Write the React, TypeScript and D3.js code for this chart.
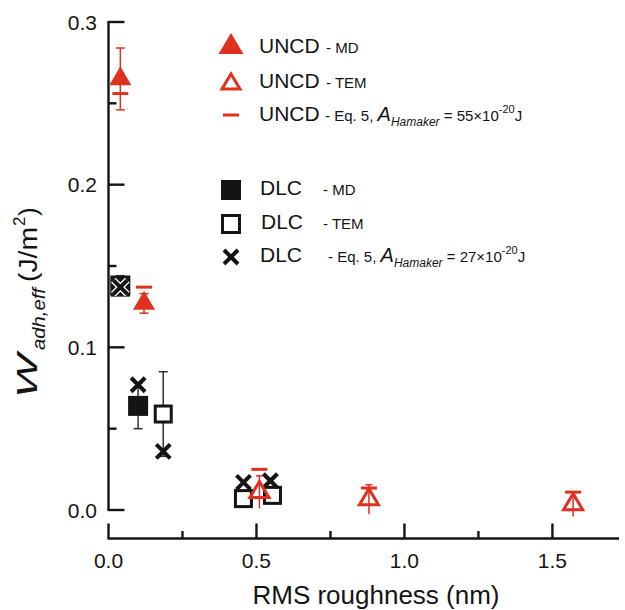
import React from "react";
import * as d3 from "d3";

// ---------- data ----------
const uncdMdX = [0.04, 0.12];
const uncdMdY = [0.265, 0.127];
const uncdMdErr = [0.019, 0.006];

const uncdTemX = [0.51, 0.88, 1.57];
const uncdTemY = [0.011, 0.0065, 0.0035];
const uncdTemErr = [0.01, 0.009, 0.0075];

const uncdEqX = [0.04, 0.12, 0.51, 0.88, 1.57];
const uncdEqY = [0.256, 0.137, 0.025, 0.0135, 0.011];

const dlcMdX = [0.04, 0.1];
const dlcMdY = [0.138, 0.064];
const dlcMdErr = [0.006, 0.014];

const dlcTemX = [0.04, 0.185, 0.456, 0.554];
const dlcTemY = [0.137, 0.059, 0.007, 0.009];
const dlcTemErr = [0.004, 0.026, 0.003, 0.003];

const dlcEqX = [0.04, 0.1, 0.185, 0.456, 0.547];
const dlcEqY = [0.137, 0.077, 0.036, 0.017, 0.018];

const xMajor = [0, 0.5, 1.0, 1.5];
const xMinor = [0.25, 0.75, 1.25];
const yMajor = [0, 0.1, 0.2, 0.3];
const yMinor = [0.05, 0.15, 0.25];

const RED = "#e0301e";
const INK = "#141414";
const FONT = "Liberation Sans, Arial, Helvetica, sans-serif";

const W = 625;
const H = 610;

const x = d3.scaleLinear().domain([0, 1.725]).range([108.5, 619]);
const y = d3.scaleLinear().domain([0, 0.3]).range([510, 22]);

function triPath(cx: number, cy: number, w: number, h: number) {
  const p = d3.path();
  p.moveTo(cx, cy - (2 * h) / 3);
  p.lineTo(cx + w / 2, cy + h / 3);
  p.lineTo(cx - w / 2, cy + h / 3);
  p.closePath();
  return p.toString();
}

function ErrBar({ cx, cy, e, color, cap = 9, sw = 1.5, bottomCap = true }: any) {
  const y1 = y(cy + e);
  const y2 = y(cy - e);
  const px = x(cx);
  return (
    <g stroke={color} strokeWidth={sw}>
      <line x1={px} x2={px} y1={y1} y2={y2} />
      <line x1={px - cap / 2} x2={px + cap / 2} y1={y1} y2={y1} />
      {bottomCap && <line x1={px - cap / 2} x2={px + cap / 2} y1={y2} y2={y2} />}
    </g>
  );
}

function XMark({ cx, cy, s = 7, halo = true }: any) {
  return (
    <g>
      {halo && (
        <g stroke="#fff" strokeWidth={6.5}>
          <line x1={cx - s} y1={cy - s} x2={cx + s} y2={cy + s} />
          <line x1={cx - s} y1={cy + s} x2={cx + s} y2={cy - s} />
        </g>
      )}
      <g stroke={INK} strokeWidth={4}>
        <line x1={cx - s} y1={cy - s} x2={cx + s} y2={cy + s} />
        <line x1={cx - s} y1={cy + s} x2={cx + s} y2={cy - s} />
      </g>
    </g>
  );
}

export default function App() {
  return (
    <svg
      width={W}
      height={H}
      style={{ position: "absolute", left: 0, top: 0, background: "#fff" }}
      fontFamily={FONT}
    >
      <rect width={W} height={H} fill="#fff" />

      {/* Y axis */}
      <g stroke={INK} strokeWidth={2.4}>
        <line x1={108.5} x2={108.5} y1={y(0.3) - 1} y2={y(0) + 1} />
        {yMajor.map((v) => (
          <line key={"ym" + v} x1={108.5} x2={124.5} y1={y(v)} y2={y(v)} />
        ))}
        {yMinor.map((v) => (
          <line key={"yn" + v} x1={108.5} x2={116.5} y1={y(v)} y2={y(v)} />
        ))}
      </g>
      {yMajor.map((v) => (
        <text
          key={"yl" + v}
          x={97}
          y={y(v) + 7.5}
          fontSize={21}
          textAnchor="end"
          fill={INK}
        >
          {d3.format(".1f")(v)}
        </text>
      ))}

      {/* X axis */}
      <g stroke={INK} strokeWidth={2.4}>
        <line x1={x(0) - 1} x2={x(1.725)} y1={538.5} y2={538.5} />
        {xMajor.map((v) => (
          <line key={"xm" + v} x1={x(v)} x2={x(v)} y1={538.5} y2={523.5} />
        ))}
        {xMinor.map((v) => (
          <line key={"xn" + v} x1={x(v)} x2={x(v)} y1={538.5} y2={531} />
        ))}
      </g>
      {xMajor.map((v) => (
        <text
          key={"xl" + v}
          x={x(v)}
          y={568}
          fontSize={21}
          textAnchor="middle"
          fill={INK}
        >
          {d3.format(".1f")(v)}
        </text>
      ))}
      <text x={376} y={604} fontSize={26} textAnchor="middle" fill={INK}>
        RMS roughness (nm)
      </text>

      {/* Y label */}
      <g transform="translate(37,398) rotate(-90)" fill={INK}>
        <text x={0} y={0} fontSize={30} fontStyle="italic" textLength={44} lengthAdjust="spacingAndGlyphs">
          W
        </text>
        <text x={48} y={8} fontSize={18} fontStyle="italic" textLength={62} lengthAdjust="spacingAndGlyphs">
          adh,eff
        </text>
        <text x={116} y={0} fontSize={26} textLength={55} lengthAdjust="spacingAndGlyphs">
          (J/m
        </text>
        <text x={172} y={-12} fontSize={17}>
          2
        </text>
        <text x={182} y={0} fontSize={26}>
          )
        </text>
      </g>

      {/* DLC TEM open squares */}
      {dlcTemX.map((v, i) => (
        <ErrBar key={"dte" + i} cx={v} cy={dlcTemY[i]} e={dlcTemErr[i]} color="#333" />
      ))}
      {dlcTemX.map((v, i) => (
        <rect
          key={"dt" + i}
          x={x(v) - 8}
          y={y(dlcTemY[i]) - 8}
          width={16}
          height={16}
          fill="#fff"
          fillOpacity={i === 0 ? 0 : 1}
          stroke={INK}
          strokeWidth={3}
        />
      ))}
      {/* DLC MD filled squares */}
      {dlcMdX.map((v, i) => (
        <ErrBar key={"dme" + i} cx={v} cy={dlcMdY[i]} e={dlcMdErr[i]} color="#333" />
      ))}
      {dlcMdX.map((v, i) => (
        <rect
          key={"dm" + i}
          x={x(v) - 10}
          y={y(dlcMdY[i]) - 10}
          width={20}
          height={20}
          fill={INK}
        />
      ))}
      {/* DLC Eq5 crosses */}
      {dlcEqX.map((v, i) => (
        <XMark key={"dx" + i} cx={x(v)} cy={y(dlcEqY[i])} halo={i === 0} />
      ))}

      {/* UNCD MD filled triangles */}
      {uncdMdX.map((v, i) => (
        <ErrBar key={"ume" + i} cx={v} cy={uncdMdY[i]} e={uncdMdErr[i]} color={RED} />
      ))}
      {uncdMdX.map((v, i) => (
        <path key={"um" + i} d={triPath(x(v), y(uncdMdY[i]), 22, 19)} fill={RED} />
      ))}
      {/* UNCD TEM open triangles */}
      {uncdTemX.map((v, i) => (
        <ErrBar key={"ute" + i} cx={v} cy={uncdTemY[i]} e={uncdTemErr[i]} color={RED} cap={7} bottomCap={false} />
      ))}
      {uncdTemX.map((v, i) => (
        <path
          key={"ut" + i}
          d={triPath(x(v), y(uncdTemY[i]), 19, 16)}
          fill="none"
          stroke={RED}
          strokeWidth={3}
        />
      ))}
      {/* UNCD Eq5 dashes */}
      {uncdEqX.map((v, i) => (
        <line
          key={"ud" + i}
          x1={x(v) - 8}
          x2={x(v) + 8}
          y1={y(uncdEqY[i])}
          y2={y(uncdEqY[i])}
          stroke={RED}
          strokeWidth={3}
        />
      ))}

      {/* Legend UNCD */}
      <path d={triPath(231, 47, 25, 21)} fill={RED} />
      <text x={259} y={53} fontSize={21} fill={INK}>
        UNCD
        <tspan x={326} fontSize={15}>- MD</tspan>
      </text>
      <path d={triPath(231, 84, 18, 15)} fill="none" stroke={RED} strokeWidth={3} />
      <text x={259} y={88} fontSize={21} fill={INK}>
        UNCD
        <tspan x={326} fontSize={15}>- TEM</tspan>
      </text>
      <line x1={223} x2={239} y1={115} y2={115} stroke={RED} strokeWidth={3} />
      <text x={259} y={121} fontSize={21} fill={INK}>
        UNCD
        <tspan x={325} fontSize={15}>- Eq. 5, </tspan>
        <tspan fontSize={20} fontStyle="italic">A</tspan>
        <tspan fontSize={12} fontStyle="italic" dy={5}>Hamaker</tspan>
        <tspan fontSize={15} dy={-5}> = 55×10</tspan>
        <tspan fontSize={11} dy={-8}>-20</tspan>
        <tspan fontSize={15} dy={8}>J</tspan>
      </text>

      {/* Legend DLC */}
      <rect x={221} y={180} width={20} height={20} fill={INK} />
      <text x={260} y={195} fontSize={21} fill={INK}>
        DLC
        <tspan x={323} fontSize={15}>- MD</tspan>
      </text>
      <rect x={222.5} y={215.5} width={17} height={17} fill="none" stroke={INK} strokeWidth={3} />
      <text x={261} y={229} fontSize={21} fill={INK}>
        DLC
        <tspan x={323} fontSize={15}>- TEM</tspan>
      </text>
      <XMark cx={231} cy={257} halo={false} />
      <text x={260} y={262} fontSize={21} fill={INK}>
        DLC
        <tspan x={328} fontSize={15}>- Eq. 5, </tspan>
        <tspan fontSize={20} fontStyle="italic">A</tspan>
        <tspan fontSize={12} fontStyle="italic" dy={5}>Hamaker</tspan>
        <tspan fontSize={15} dy={-5}> = 27×10</tspan>
        <tspan fontSize={11} dy={-8}>-20</tspan>
        <tspan fontSize={15} dy={8}>J</tspan>
      </text>
    </svg>
  );
}
